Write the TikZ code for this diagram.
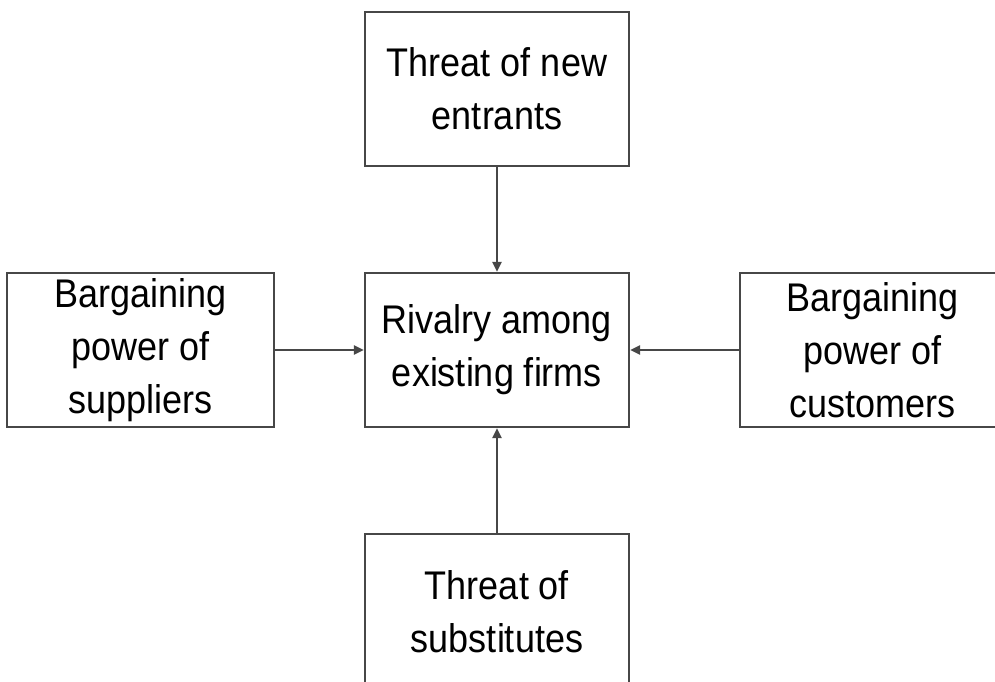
\documentclass[tikz,border=0pt]{standalone}
\usepackage{fontspec}
\setmainfont{Liberation Sans}[FakeStretch=0.9]
\usetikzlibrary{arrows.meta}
\usetikzlibrary{positioning}

\begin{document}
\begin{tikzpicture}[->,>={Triangle[length=10pt,width=9pt]},line width=2.2pt]
    \tikzstyle{force}=[rectangle, draw=black!72, minimum width=264pt, minimum height=154pt,
      align=center, font=\fontsize{40}{53}\selectfont, inner sep=0pt]

    \clip (0,0) rectangle (995pt,-682pt);

    \node[force]          (rivalry) at (497pt,-350pt) {Rivalry among\\existing firms};
    \node[force]          (entrants) [above=105pt of rivalry] {Threat of new\\entrants};
    \node[force, minimum width=267pt] (suppliers) [left=89pt of rivalry] {Bargaining\\power of\\suppliers};
    \node[force]          (customers) [right=109pt of rivalry] {Bargaining\\power of\\customers};
    \node[force]          (substitutes) [below=105pt of rivalry] {Threat of\\substitutes};

    \draw[black!72] (entrants) -- (rivalry);
    \draw[black!72] (suppliers) -- (rivalry);
    \draw[black!72] (customers) -- (rivalry);
    \draw[black!72] (substitutes) -- (rivalry);

\end{tikzpicture}
\end{document}
